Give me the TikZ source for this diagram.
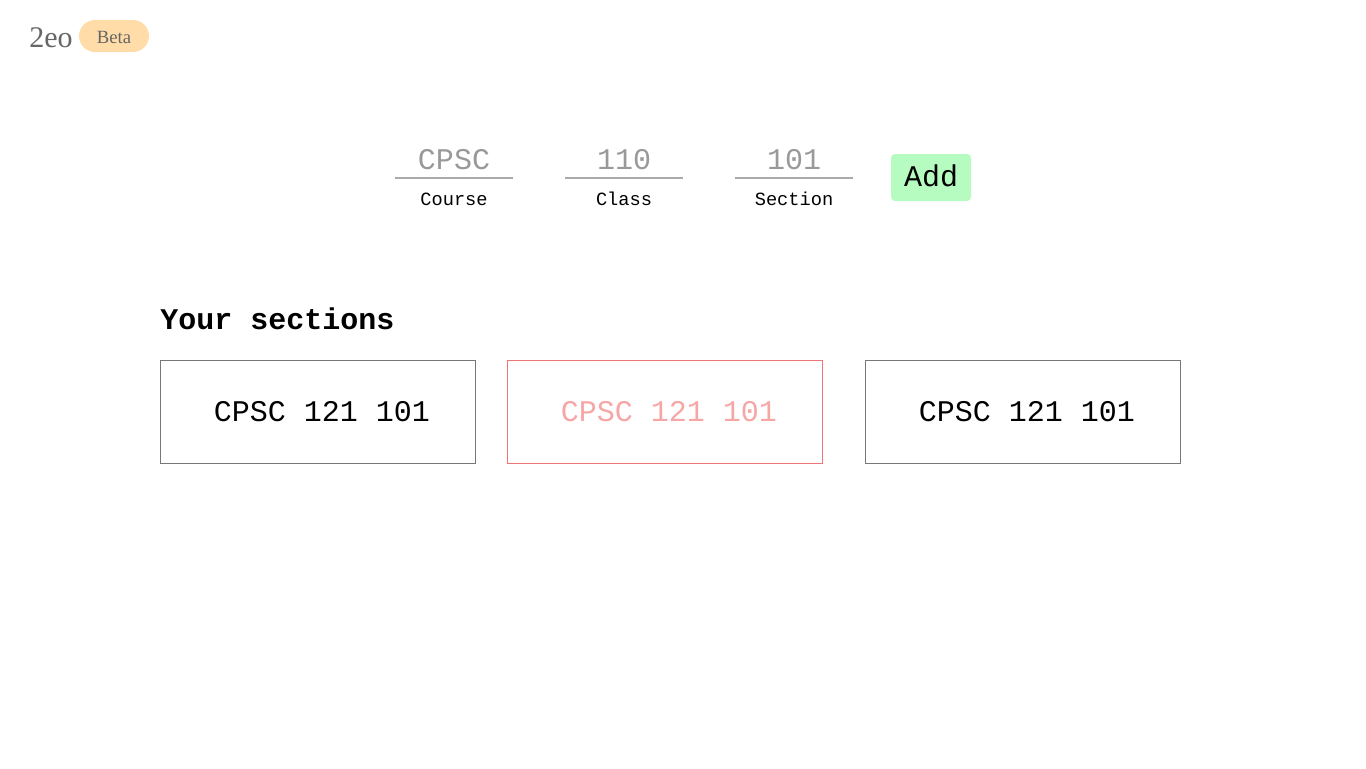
\documentclass[tikz,border=0pt]{standalone}
\usepackage{fontspec}
\setmainfont{Liberation Serif}
\newfontfamily\cour{Liberation Mono}
\definecolor{logogray}{HTML}{666666}
\definecolor{pill}{HTML}{FFDCA8}
\definecolor{fieldgray}{HTML}{999999}
\definecolor{linegray}{HTML}{AAAAAA}
\definecolor{btngreen}{HTML}{B6FBC0}
\definecolor{boxgray}{HTML}{777777}
\definecolor{boxred}{HTML}{F07474}
\definecolor{textpink}{HTML}{F7A6A6}
\tikzset{
  fieldtext/.style={font=\cour\fontsize{22.5}{24}\selectfont, text=fieldgray, anchor=base, inner sep=0pt},
  fieldlabel/.style={font=\cour\fontsize{14}{16}\selectfont, text=black, anchor=base, inner sep=0pt},
  uline/.style={draw=linegray, line width=1.5pt},
  secbox/.style={draw=boxgray, line width=0.75pt, minimum width=236.25pt, minimum height=77.25pt, inner sep=0pt},
  sectext/.style={font=\cour\fontsize{22.5}{24}\selectfont, anchor=base, inner sep=0pt},
}
\begin{document}
\begin{tikzpicture}[x=0.75pt,y=-0.75pt]
\useasboundingbox[fill=white] (0,0) rectangle (1366,768);
% logo
\node[anchor=base west, inner sep=0pt, font=\fontsize{22.5}{24}\selectfont, text=logogray] (logo) at (29,47) {2eo};
\node[fill=pill, rounded corners=12pt, minimum width=52.5pt, minimum height=24pt, inner sep=0pt] (pillbox) at (114,36) {};
\node[anchor=base, inner sep=0pt, font=\fontsize{14}{16}\selectfont, text=logogray] (beta) at (114,43) {Beta};
% fields
\node[fieldtext] (course) at (454,169) {CPSC};
\coordinate (c1) at (395,178); \coordinate (c2) at (513,178);
\draw[uline] (c1) -- (c2);
\node[fieldlabel] (courselbl) at (454,205) {Course};
\node[fieldtext] (class) at (624,169) {110};
\coordinate (k1) at (565,178); \coordinate (k2) at (683,178);
\draw[uline] (k1) -- (k2);
\node[fieldlabel] (classlbl) at (624,205) {Class};
\node[fieldtext] (section) at (794,169) {101};
\coordinate (s1) at (735,178); \coordinate (s2) at (853,178);
\draw[uline] (s1) -- (s2);
\node[fieldlabel] (sectionlbl) at (794,205) {Section};
% add button
\node[fill=btngreen, rounded corners=3pt, minimum width=60pt, minimum height=35.25pt, inner sep=0pt] (addbtn) at (931,177.5) {};
\node[anchor=base, inner sep=0pt, font=\cour\fontsize{22.5}{24}\selectfont, text=black] (addtxt) at (931,186) {Add};
% your sections
\node[anchor=base west, inner sep=0pt, font=\cour\bfseries\fontsize{22.5}{24}\selectfont] (heading) at (160,329) {Your sections};
% boxes
\node[secbox] (box1) at (318,412) {};
\node[sectext, text=black] (t1) at (322,421) {CPSC 121 101};
\node[secbox, draw=boxred] (box2) at (665,412) {};
\node[sectext, text=textpink] (t2) at (669,421) {CPSC 121 101};
\node[secbox] (box3) at (1023,412) {};
\node[sectext, text=black] (t3) at (1027,421) {CPSC 121 101};
\end{tikzpicture}
\end{document}
